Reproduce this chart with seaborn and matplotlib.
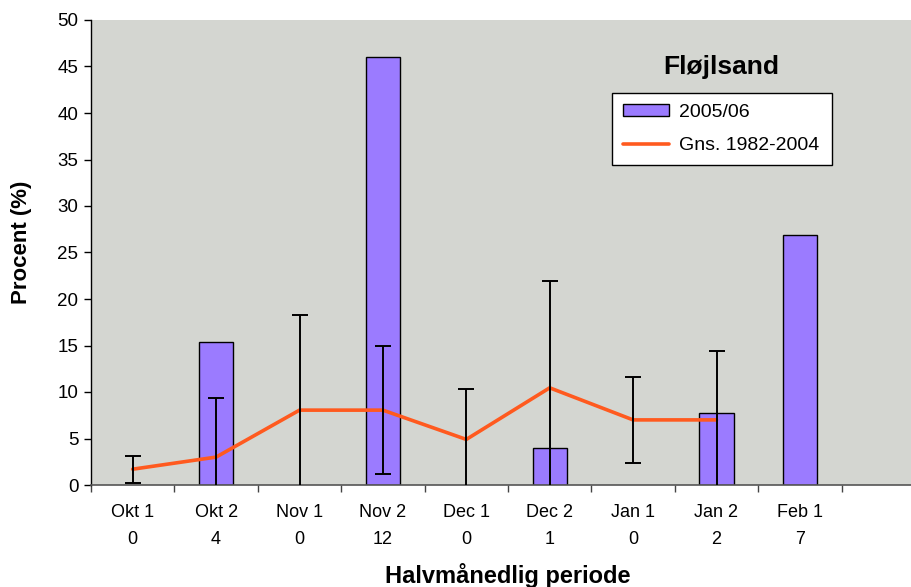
import numpy as np
import pandas as pd
import matplotlib
matplotlib.use("Agg")
import matplotlib.pyplot as plt
import seaborn as sns
from matplotlib.patches import Patch
from matplotlib.lines import Line2D

# data
periods = ["Okt 1", "Okt 2", "Nov 1", "Nov 2", "Dec 1", "Dec 2", "Jan 1", "Jan 2", "Feb 1"]
n_obs = [0, 4, 0, 12, 0, 1, 0, 2, 7]
pct_2005 = [np.nan, 15.4, np.nan, 46.0, np.nan, 4.0, np.nan, 7.7, 26.9]
avg_8204 = [1.7, 3.0, 8.05, 8.05, 4.9, 10.45, 7.0, 7.0]
err_8204 = [1.45, 6.35, 10.25, 6.9, 5.4, 11.45, 4.6, 7.45]

sns.set_theme(style="white")
plt.rcParams['font.family'] = ['Liberation Sans', 'DejaVu Sans']
plt.rcParams['text.color'] = 'black'
plt.rcParams['axes.labelcolor'] = 'black'
plt.rcParams['xtick.color'] = 'black'
plt.rcParams['ytick.color'] = 'black'

labels = [p + "\n" + str(n) for p, n in zip(periods, n_obs)]
order = labels + [""]
df = pd.DataFrame({"label": labels, "pct": pct_2005})

bar_col = "#9b7bff"
line_col = "#ff5a1f"
bg = "#d4d6d1"

fig = plt.figure(figsize=(9.12, 5.87), dpi=100)
ax = fig.add_axes([91/912, 1-485/587, (925-91)/912, (485-20)/587])
ax.set_facecolor(bg)

sns.barplot(data=df, x="label", y="pct", order=order, color=bar_col,
            saturation=1, width=0.41, edgecolor="black", linewidth=1, ax=ax, zorder=2)

xs = np.arange(len(avg_8204))
sns.lineplot(x=xs, y=avg_8204, color=line_col, linewidth=2.6, ax=ax, zorder=3)
ax.errorbar(xs, avg_8204, yerr=err_8204, fmt='none', ecolor='black',
            elinewidth=1.4, capsize=5.8, capthick=1.4, zorder=4)

ax.set_xlim(-0.5, len(order) - 0.5)
ax.set_ylim(0, 50)
ax.set_yticks(range(0, 51, 5))
ax.tick_params(axis='y', length=5, width=1, direction='out', left=True,
               labelsize=13.5, colors='black', pad=4)
# category labels in the middle, tick marks at the boundaries
ax.set_xticks(range(len(order)))
ax.set_xticklabels(order, fontsize=13, linespacing=1.7, color='black')
ax.tick_params(axis='x', length=0, pad=14)
ax.set_xticks(np.arange(-0.5, len(order), 1), minor=True)
ax.tick_params(axis='x', which='minor', length=5, width=1, direction='out',
               bottom=True, color='#444444')

for s in ['top', 'right']:
    ax.spines[s].set_visible(False)
ax.spines['left'].set_color('black')
ax.spines['bottom'].set_color('#555555')
ax.spines['left'].set_linewidth(1)
ax.spines['bottom'].set_linewidth(1.2)

ax.set_xlabel("Halvmånedlig periode", fontsize=17, fontweight='bold', color='black')
ax.set_ylabel("Procent (%)", fontsize=16, fontweight='bold', color='black')
pos = ax.get_position()
ax.xaxis.set_label_coords((508/912 - pos.x0) / pos.width,
                          (1-576/587 - pos.y0) / pos.height)
ax.yaxis.set_label_coords((22/912 - pos.x0) / pos.width,
                          (1-242/587 - pos.y0) / pos.height)
ax.xaxis.label.set_va('center')
ax.yaxis.label.set_va('center')

fig.text(721/912, 1-67/587, "Fløjlsand", ha='center', va='center',
         fontsize=19, fontweight='bold', color='black')

handles = [Patch(facecolor=bar_col, edgecolor='black', linewidth=1),
           Line2D([], [], color=line_col, linewidth=2.6)]
leg = ax.legend(handles, ["2005/06", "Gns. 1982-2004"], loc='upper left',
                bbox_to_anchor=(612/912, 1-159/587, 220/912, 66/587),
                bbox_transform=fig.transFigure, mode='expand', borderaxespad=0,
                fontsize=14, frameon=True, fancybox=False, edgecolor='black',
                handlelength=2.4, handleheight=0.6, borderpad=0.55,
                labelspacing=0.85, handletextpad=0.5)
leg.get_frame().set_linewidth(1)
leg.get_frame().set_facecolor('white')
leg.get_frame().set_alpha(1)

fig.savefig("out.png", dpi=100)
